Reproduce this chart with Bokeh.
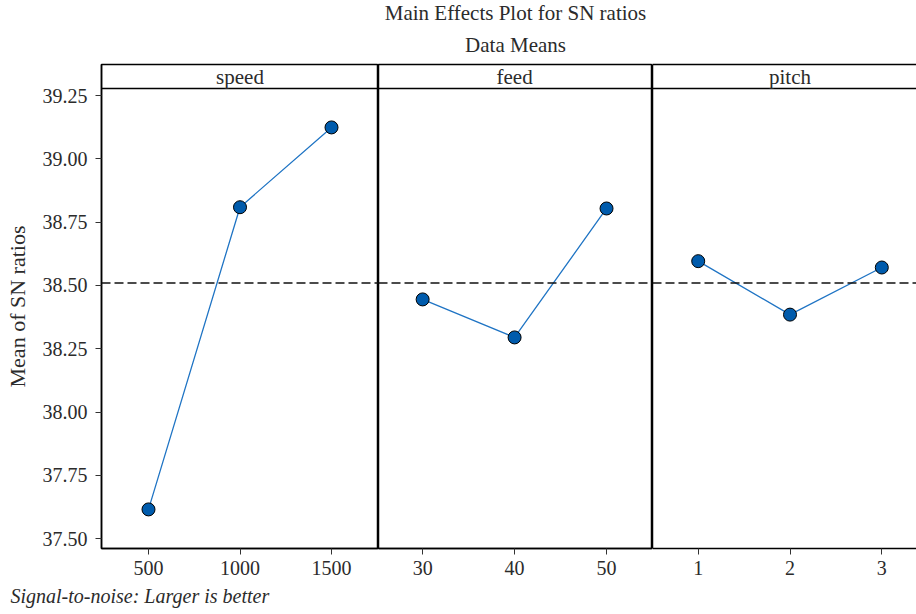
from bokeh.plotting import figure
from bokeh.layouts import row
from bokeh.models import Range1d, FixedTicker, Span, Label, LinearAxis, Title
from bokeh.embed import file_html
from bokeh.resources import INLINE

# ---------------- data ----------------
speed_levels = [500, 1000, 1500]
speed_sn = [37.616, 38.809, 39.124]

feed_levels = [30, 40, 50]
feed_sn = [38.445, 38.295, 38.804]

pitch_levels = [1, 2, 3]
pitch_sn = [38.596, 38.385, 38.571]

grand_mean = 38.51

y_ticks = [37.50, 37.75, 38.00, 38.25, 38.50, 38.75, 39.00, 39.25]
y_tick_labels = ["37.50", "37.75", "38.00", "38.25", "38.50", "38.75", "39.00", "39.25"]

title_lines = ["Main Effects Plot for SN ratios", "Data Means"]
footer_text = "Signal-to-noise: Larger is better"
y_label = "Mean of SN ratios"

# ---------------- layout / style constants ----------------
FONT = "Liberation Serif"
TXT = "#2b2b2b"
MARK_FILL = "#005BAC"
LINE_COL = "#1F74C4"
Y_RANGE = (37.4617, 39.3724)
HEADER_Y = 39.2776
H = 614
TOP = 64
FRAME_H = 484

panels = [
    dict(name="speed", levels=speed_levels, values=speed_sn, xr=(243.2, 1756.8), left=101, fw=277),
    dict(name="feed", levels=feed_levels, values=feed_sn, xr=(25.2, 55.0), left=0, fw=274),
    dict(name="pitch", levels=pitch_levels, values=pitch_sn, xr=(0.502, 3.378), left=0, fw=264),
]


def empty_axis(p, side):
    ax = LinearAxis(ticker=FixedTicker(ticks=[]), major_tick_line_color=None,
                    minor_tick_line_color=None, major_label_text_font_size="0px",
                    axis_line_color="black", axis_line_width=1.5,
                    major_tick_out=0, major_tick_in=0, major_label_standoff=0)
    p.add_layout(ax, side)


figs = []
for i, pn in enumerate(panels):
    width = pn["left"] + pn["fw"]
    p = figure(width=width, height=H, x_range=Range1d(*pn["xr"]), y_range=Range1d(*Y_RANGE),
               output_backend="svg", toolbar_location=None,
               y_axis_location="left" if i == 0 else None,
               min_border_left=pn["left"], min_border_right=0,
               min_border_top=TOP, min_border_bottom=H - TOP - FRAME_H)
    p.grid.visible = False
    p.background_fill_color = "white"
    p.border_fill_color = "white"

    xa = p.below[0]
    xa.ticker = FixedTicker(ticks=pn["levels"])
    xa.major_label_text_font = FONT
    xa.major_label_text_font_size = "20px"
    xa.major_label_text_color = TXT
    xa.major_tick_out = 6
    xa.major_tick_in = 0
    xa.minor_tick_line_color = None
    xa.major_tick_line_color = "#333333"
    xa.axis_line_color = "black"
    xa.axis_line_width = 1.5
    xa.major_label_standoff = 6

    if i < 2:
        p.outline_line_color = "black"
        p.outline_line_width = 1.5
        p.outline_line_alpha = 1.0
    else:
        p.outline_line_color = None
        empty_axis(p, "above")
        empty_axis(p, "left")

    if i == 0:
        ya = p.left[0]
        ya.ticker = FixedTicker(ticks=y_ticks)
        ya.major_label_overrides = {t: s for t, s in zip(y_ticks, y_tick_labels)}
        ya.major_label_text_font = FONT
        ya.major_label_text_font_size = "20px"
        ya.major_label_text_color = TXT
        ya.major_tick_out = 6
        ya.major_tick_in = 0
        ya.minor_tick_line_color = None
        ya.major_tick_line_color = "#333333"
        ya.axis_line_color = "black"
        ya.axis_line_width = 1.5
        ya.major_label_standoff = 8
        ya.axis_label = y_label
        ya.axis_label_text_font = FONT
        ya.axis_label_text_font_size = "22px"
        ya.axis_label_text_font_style = "normal"
        ya.axis_label_text_color = TXT
        ya.axis_label_standoff = 10

    # header strip
    p.add_layout(Span(location=HEADER_Y, dimension="width", line_color="black", line_width=1.5))
    p.add_layout(Label(x=pn["levels"][1], y=(HEADER_Y + Y_RANGE[1]) / 2, text=pn["name"],
                       text_align="center", text_baseline="middle", text_font=FONT,
                       text_font_size="21px", text_color=TXT))

    # reference (grand mean) line
    p.add_layout(Span(location=grand_mean, dimension="width", line_color="#111111",
                      line_width=1.4, line_dash="9 4"))

    p.line(pn["levels"], pn["values"], line_color=LINE_COL, line_width=1.3)
    p.scatter(pn["levels"], pn["values"], size=13, fill_color=MARK_FILL,
              line_color="black", line_width=1)

    figs.append(p)

# titles above the middle panel (centred on its frame)
mid = figs[1]
mid.add_layout(Title(text=title_lines[1], align="center", text_font=FONT, text_font_size="21px",
                     text_font_style="normal", text_color=TXT, standoff=16,
                     text_line_height=1.0), "above")
mid.add_layout(Title(text=title_lines[0], align="center", text_font=FONT, text_font_size="21px",
                     text_font_style="normal", text_color=TXT, standoff=-5,
                     text_line_height=1.0), "above")

# footer below the first panel
figs[0].add_layout(Title(text=footer_text, align="left", offset=-91, text_font=FONT,
                         text_font_size="20px", text_font_style="italic", text_color=TXT,
                         standoff=10), "below")

layout = row(*figs, spacing=0)
open("out.html", "w").write(file_html(layout, INLINE))
